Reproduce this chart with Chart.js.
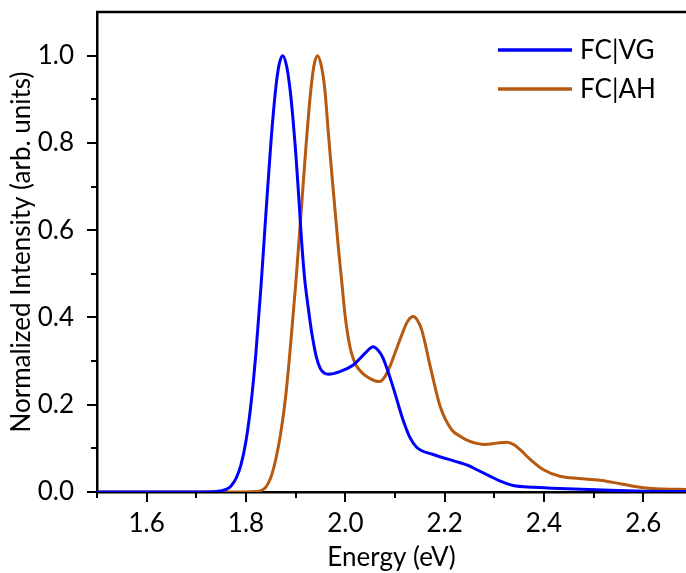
<!DOCTYPE html>
<html lang="en">
<head>
    <meta charset="UTF-8">
    <title>Normalized Intensity</title>
    <script src="https://cdn.jsdelivr.net/npm/chart.js"></script>
    <style>
        body{
            margin: 0;
            background: #ffffff;
        }
    </style>
</head>
<body>
    <canvas id="grafik" width="686" height="573"></canvas>

    <script>
        // series names
        const seriesNames = ["FC|VG", "FC|AH"]

        // FC|VG spectrum
        const vgEnergy = [1.50, 1.70, 1.74, 1.76, 1.77, 1.78, 1.79, 1.80, 1.81, 1.82, 1.83, 1.84, 1.85, 1.86, 1.867, 1.874, 1.882, 1.889, 1.895, 1.900, 1.906, 1.912, 1.918, 1.925, 1.932, 1.942, 1.950, 1.958, 1.966, 1.989, 2.016, 2.040, 2.056, 2.066, 2.076, 2.096, 2.116, 2.130, 2.144, 2.177, 2.231, 2.251, 2.265, 2.290, 2.312, 2.338, 2.380, 2.432, 2.533, 2.600, 2.686]
        const vgIntensity = [0, 0, 0.001, 0.006, 0.014, 0.031, 0.063, 0.117, 0.201, 0.319, 0.468, 0.636, 0.798, 0.926, 0.981, 1.000, 0.975, 0.920, 0.850, 0.780, 0.680, 0.575, 0.490, 0.425, 0.368, 0.308, 0.282, 0.272, 0.270, 0.276, 0.291, 0.318, 0.333, 0.325, 0.307, 0.241, 0.166, 0.125, 0.102, 0.086, 0.067, 0.059, 0.051, 0.037, 0.025, 0.015, 0.011, 0.008, 0.004, 0.002, 0.001]

        // FC|AH spectrum
        const ahEnergy = [1.50, 1.80, 1.82, 1.83, 1.84, 1.85, 1.86, 1.87, 1.88, 1.89, 1.90, 1.91, 1.92, 1.93, 1.937, 1.944, 1.952, 1.959, 1.966, 1.972, 1.979, 1.986, 1.993, 1.999, 2.005, 2.012, 2.022, 2.035, 2.050, 2.069, 2.080, 2.090, 2.110, 2.125, 2.137, 2.146, 2.154, 2.171, 2.191, 2.214, 2.231, 2.251, 2.281, 2.305, 2.325, 2.340, 2.352, 2.375, 2.399, 2.432, 2.470, 2.513, 2.553, 2.600, 2.640, 2.686]
        const ahIntensity = [0, 0, 0.001, 0.003, 0.011, 0.033, 0.075, 0.135, 0.220, 0.340, 0.475, 0.625, 0.780, 0.915, 0.978, 1.000, 0.975, 0.920, 0.820, 0.740, 0.650, 0.560, 0.480, 0.410, 0.360, 0.320, 0.290, 0.272, 0.260, 0.253, 0.265, 0.288, 0.349, 0.390, 0.402, 0.392, 0.371, 0.288, 0.196, 0.143, 0.128, 0.116, 0.109, 0.112, 0.114, 0.108, 0.097, 0.072, 0.051, 0.036, 0.031, 0.027, 0.019, 0.010, 0.007, 0.006]

        // ticks
        const xMajor = [1.6, 1.8, 2.0, 2.2, 2.4, 2.6]
        const xMinor = [1.5, 1.7, 1.9, 2.1, 2.3, 2.5]
        const yMajor = [0.0, 0.2, 0.4, 0.6, 0.8, 1.0]
        const yMinor = [0.1, 0.3, 0.5, 0.7, 0.9]

        const colors = ["#0000ff", "#b65a12"]
        const fontFamily = "Lato, 'Open Sans', sans-serif"
        const fontSize = 26

        function toPoints(xs, ys){
            return xs.map((x, i) => ({x: x, y: ys[i]}))
        }

        // draws tick marks, top frame and the legend
        const framePlugin = {
            id: 'frame',
            afterDraw(chart){
                const ctx = chart.ctx
                const area = chart.chartArea
                const xs = chart.scales.x
                const ys = chart.scales.y
                ctx.save()
                ctx.strokeStyle = "#000"
                ctx.lineWidth = 2
                ctx.beginPath()
                xMajor.forEach(v => {
                    const p = Math.round(xs.getPixelForValue(v))
                    ctx.moveTo(p, area.bottom); ctx.lineTo(p, area.bottom + 10)
                })
                xMinor.forEach(v => {
                    const p = Math.round(xs.getPixelForValue(v))
                    ctx.moveTo(p, area.bottom); ctx.lineTo(p, area.bottom + 6)
                })
                yMajor.forEach(v => {
                    const p = Math.round(ys.getPixelForValue(v))
                    ctx.moveTo(area.left, p); ctx.lineTo(area.left - 10, p)
                })
                yMinor.forEach(v => {
                    const p = Math.round(ys.getPixelForValue(v))
                    ctx.moveTo(area.left, p); ctx.lineTo(area.left - 6, p)
                })
                ctx.stroke()

                ctx.lineWidth = 2.5
                ctx.beginPath()
                ctx.moveTo(area.left - 1, area.top)
                ctx.lineTo(area.right + 2, area.top)
                ctx.stroke()

                // legend
                ctx.font = fontSize + "px " + fontFamily
                ctx.textBaseline = "middle"
                ctx.fillStyle = "#000"
                const rows = [50, 89]
                chart.data.datasets.forEach((ds, i) => {
                    ctx.strokeStyle = ds.borderColor
                    ctx.lineWidth = 3.5
                    ctx.beginPath()
                    ctx.moveTo(498, rows[i])
                    ctx.lineTo(572, rows[i])
                    ctx.stroke()
                    ctx.fillText(ds.label, 580, rows[i] + 1)
                })
                ctx.restore()
            }
        }

        const ctxChart = document.getElementById('grafik')

        new Chart(ctxChart, {
            type: 'line',
            data: {
                datasets: [
                    {
                        label: seriesNames[0],
                        data: toPoints(vgEnergy, vgIntensity),
                        borderColor: colors[0],
                        borderWidth: 3,
                        pointRadius: 0,
                        cubicInterpolationMode: 'monotone',
                        fill: false
                    },
                    {
                        label: seriesNames[1],
                        data: toPoints(ahEnergy, ahIntensity),
                        borderColor: colors[1],
                        borderWidth: 3,
                        pointRadius: 0,
                        cubicInterpolationMode: 'monotone',
                        fill: false
                    }
                ]
            },
            options: {
                responsive: false,
                animation: false,
                devicePixelRatio: 1,
                layout: {
                    padding: {top: 12, left: 0, right: 0, bottom: 0}
                },
                plugins: {
                    legend: { display: false },
                    tooltip: { enabled: false }
                },
                scales: {
                    x: {
                        type: 'linear',
                        min: 1.5,
                        max: 2.686,
                        afterBuildTicks: (scale) => {
                            scale.ticks = xMajor.map(v => ({value: v}))
                        },
                        afterFit: (scale) => {
                            scale.height = 81
                            scale.paddingLeft = 0
                            scale.paddingRight = 0
                        },
                        grid: { display: false },
                        border: { display: true, color: "#000", width: 2.5 },
                        ticks: {
                            color: "#000",
                            padding: 8,
                            maxRotation: 0,
                            font: { family: fontFamily, size: fontSize },
                            callback: (v) => v.toFixed(1)
                        },
                        title: {
                            display: true,
                            text: "Energy (eV)",
                            color: "#000",
                            font: { family: fontFamily, size: fontSize },
                            padding: { top: 0, bottom: 0 }
                        }
                    },
                    y: {
                        min: 0,
                        max: 1.1,
                        afterBuildTicks: (scale) => {
                            scale.ticks = yMajor.map(v => ({value: v}))
                        },
                        afterFit: (scale) => {
                            scale.width = 97
                            scale.paddingTop = 0
                            scale.paddingBottom = 0
                        },
                        grid: { display: false },
                        border: { display: true, color: "#000", width: 2.5 },
                        ticks: {
                            color: "#000",
                            padding: 15,
                            font: { family: fontFamily, size: fontSize },
                            callback: (v) => v.toFixed(1)
                        },
                        title: {
                            display: true,
                            text: "Normalized Intensity (arb. units)",
                            color: "#000",
                            font: { family: fontFamily, size: fontSize },
                            padding: { top: 6, bottom: 0 }
                        }
                    }
                }
            },
            plugins: [framePlugin]
        });
    </script>
</body>
</html>
